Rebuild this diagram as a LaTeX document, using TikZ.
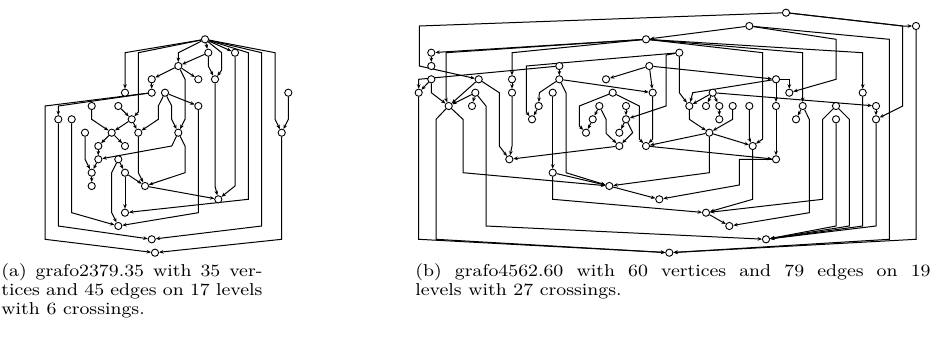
\documentclass[tikz,border=0pt]{standalone}
\usepackage{fontspec}
\usepackage{graphicx}
\usetikzlibrary{arrows.meta,backgrounds}
\tikzset{
  v/.style={circle,draw,fill=white,inner sep=0pt,minimum size=3.6pt,line width=0.45pt},
  e/.style={line width=0.5pt,-{Stealth[length=2.2pt,width=1.8pt]}},
  captxt/.style={inner sep=0pt,font=\fontsize{8.6}{10}\selectfont}
}
\begin{document}
\begin{tikzpicture}[x=0.5pt,y=-0.5pt]
\useasboundingbox (0,0) rectangle (940,337);
% ---------------- (a) ----------------
\node[v] (a0) at (205,39.3) {};
\node[v] (a1) at (208.3,52.7) {};
\node[v] (a2) at (235,52.7) {};
\node[v] (a3) at (178.3,66) {};
\node[v] (a4) at (198.3,79.3) {};
\node[v] (a5) at (215,79.3) {};
\node[v] (a6) at (151.7,79.3) {};
\node[v] (a7) at (151.7,92.7) {};
\node[v] (a8) at (165,92.7) {};
\node[v] (a9) at (288.3,92.7) {};
\node[v] (a10) at (198.3,106) {};
\node[v] (a11) at (178.3,132.7) {};
\node[v] (a12) at (281.7,132.7) {};
\node[v] (a13) at (218.3,199.3) {};
\node[v] (a14) at (151.7,239.3) {};
\node[v] (a15) at (155,252.7) {};
\node[v] (a16) at (125,92.7) {};
\node[v] (a17) at (91.7,106) {};
\node[v] (a18) at (118.3,106) {};
\node[v] (a19) at (58.3,119.3) {};
\node[v] (a20) at (71.7,119.3) {};
\node[v] (a21) at (131.7,119.3) {};
\node[v] (a22) at (85,132.7) {};
\node[v] (a23) at (111.7,132.7) {};
\node[v] (a24) at (138.3,132.7) {};
\node[v] (a25) at (98.3,146) {};
\node[v] (a26) at (125,146) {};
\node[v] (a27) at (98.3,159.3) {};
\node[v] (a28) at (118.3,159.3) {};
\node[v] (a29) at (91.7,172.7) {};
\node[v] (a30) at (125,172.7) {};
\node[v] (a31) at (91.7,186) {};
\node[v] (a32) at (145,186) {};
\node[v] (a33) at (125,212.7) {};
\node[v] (a34) at (118.3,226) {};
% ---------------- (b) ----------------
\node[v] (b0) at (786,12.7) {};
\node[v] (b25) at (749.3,26) {};
\node[v] (b26) at (916,26) {};
\node[v] (b1) at (646,39.3) {};
\node[v] (b2) at (431.3,52.7) {};
\node[v] (b27) at (679.3,52.7) {};
\node[v] (b3) at (431.3,66) {};
\node[v] (b4) at (559.3,66) {};
\node[v] (b5) at (649.3,66) {};
\node[v] (b6) at (431.3,79.3) {};
\node[v] (b7) at (478.7,79.3) {};
\node[v] (b8) at (512,79.3) {};
\node[v] (b9) at (559.3,79.3) {};
\node[v] (b10) at (606,79.3) {};
\node[v] (b28) at (776,79.3) {};
\node[v] (b11) at (418.7,92.7) {};
\node[v] (b12) at (475.3,92.7) {};
\node[v] (b13) at (512,92.7) {};
\node[v] (b14) at (552.7,92.7) {};
\node[v] (b15) at (612.7,92.7) {};
\node[v] (b16) at (652.7,92.7) {};
\node[v] (b29) at (789.3,92.7) {};
\node[v] (b30) at (862.7,92.7) {};
\node[v] (b31) at (712.7,92.7) {};
\node[v] (b17) at (448.7,106) {};
\node[v] (b18) at (472,106) {};
\node[v] (b19) at (538.7,106) {};
\node[v] (b20) at (599.3,106) {};
\node[v] (b21) at (626,106) {};
\node[v] (b32) at (689.3,106) {};
\node[v] (b33) at (706,106) {};
\node[v] (b34) at (719.3,106) {};
\node[v] (b35) at (732.7,106) {};
\node[v] (b36) at (749.3,106) {};
\node[v] (b37) at (776,106) {};
\node[v] (b38) at (802.7,106) {};
\node[v] (b39) at (836,106) {};
\node[v] (b40) at (876,106) {};
\node[v] (b22) at (532,119.3) {};
\node[v] (b23) at (592.7,119.3) {};
\node[v] (b24) at (626,119.3) {};
\node[v] (b41) at (719.3,119.3) {};
\node[v] (b42) at (796,119.3) {};
\node[v] (b43) at (836,119.3) {};
\node[v] (b44) at (876,119.3) {};
\node[v] (b45) at (586,132.7) {};
\node[v] (b46) at (619.3,132.7) {};
\node[v] (b54) at (709.3,132.7) {};
\node[v] (b47) at (619.3,146) {};
\node[v] (b48) at (646,146) {};
\node[v] (b55) at (752.7,146) {};
\node[v] (b49) at (509.3,159.3) {};
\node[v] (b56) at (776,159.3) {};
\node[v] (b50) at (552.7,172.7) {};
\node[v] (b51) at (609.3,186) {};
\node[v] (b52) at (659.3,199.3) {};
\node[v] (b57) at (706,212.7) {};
\node[v] (b58) at (729.3,226) {};
\node[v] (b59) at (766,239.3) {};
\node[v] (b53) at (669.3,252.7) {};
% ---------------- edges ----------------
\begin{scope}[on background layer]
% (a)
\draw[e] (a0)--(a1);
\draw[e] (a0)--(178.3,52.7)--(a3);
\draw[e] (a1)--(a3);
\draw[e] (a0)--(221.7,52.7)--(221.7,70)--(a5);
\draw[e] (a1)--(208.3,66)--(a5);
\draw[e] (a0)--(125,52.7)--(a16);
\draw[e] (a0)--(138.3,52.7)--(138.3,112)--(a21);
\draw[e] (a0)--(248.3,52.7)--(248.3,199.3)--(a33);
\draw[e] (a0)--(261.7,52.7)--(261.7,226)--(a14);
\draw[e] (a0)--(275,52.7)--(275,119.3)--(a12);
\draw[e] (a9)--(288.3,119.3)--(a12);
\draw[e] (a0)--(a2);
\draw[e] (a2)--(235,186)--(a13);
\draw[e] (a5)--(215,186)--(a13);
\draw[e] (a12)--(281.7,239.3)--(a15);
\draw[e] (a3)--(a6);
\draw[e] (a3)--(a4);
\draw[e] (a3)--(185,79.3)--(185,119.3)--(a11);
\draw[e] (a11)--(185,146)--(185,172.7)--(a32);
\draw[e] (a11)--(171.7,146)--(a27);
\draw[e] (a6)--(a7);
\draw[e] (a7)--(58.3,106)--(a19);
\draw[e] (a7)--(45,106)--(45,239.3)--(a15);
\draw[e] (a8)--(a10);
\draw[e] (a8)--(171.7,106)--(171.7,119.3)--(a11);
\draw[e] (a8)--(158.3,106)--(158.3,119.3)--(a24);
\draw[e] (a17)--(91.7,119.3)--(a23);
\draw[e] (a18)--(a21);
\draw[e] (a21)--(a23);
\draw[e] (a21)--(a24);
\draw[e] (a10)--(198.3,212.7)--(a34);
\draw[e] (a19)--(58.3,226)--(a14);
\draw[e] (a20)--(71.7,212.7)--(a34);
\draw[e] (a22)--(85,159.3)--(a29);
\draw[e] (a23)--(a25);
\draw[e] (a23)--(a26);
\draw[e] (a24)--(138.3,172.7)--(a32);
\draw[e] (a25)--(a27);
\draw[e] (a27)--(a29);
\draw[e] (a29)--(a31);
\draw[e] (a28)--(111.7,172.7)--(111.7,212.7)--(a34);
\draw[e] (a28)--(a30);
\draw[e] (a30)--(a32);
\draw[e] (a30)--(a33);
\draw[e] (a32)--(a13);
% (b)
\draw[e] (b0)--(419.3,26)--(419.3,66)--(b7);
\draw[e] (b0)--(902.7,26)--(b26);
\draw[e] (b0)--(902.7,26)--(902.7,106)--(b44);
\draw[e] (b25)--(b1);
\draw[e] (b25)--(836,39.3)--(836,79.3)--(b29);
\draw[e] (b25)--(889.3,39.3)--(889.3,239.3)--(b53);
\draw[e] (b26)--(916,239.3)--(b53);
\draw[e] (b1)--(b2);
\draw[e] (b1)--(446,52.7)--(446,99)--(b17);
\draw[e] (b1)--(512,52.7)--(b8);
\draw[e] (b1)--(762.7,52.7)--(762.7,139)--(b55);
\draw[e] (b1)--(802.7,52.7)--(b38);
\draw[e] (b1)--(862.7,52.7)--(b30);
\draw[e] (b2)--(b3);
\draw[e] (b4)--(418.7,79.3)--(b11);
\draw[e] (b4)--(b9);
\draw[e] (b5)--(b10);
\draw[e] (b5)--(b16);
\draw[e] (b5)--(b28);
\draw[e] (b6)--(b11);
\draw[e] (b6)--(431.3,92.7)--(b17);
\draw[e] (b7)--(b17);
\draw[e] (b7)--(499.3,92.7)--(499.3,146)--(b49);
\draw[e] (b8)--(b13);
\draw[e] (b9)--(b16);
\draw[e] (b9)--(539.3,92.7)--(b19);
\draw[e] (b9)--(566,92.7)--(566,172.7)--(b51);
\draw[e] (b11)--(418.7,239.3)--(b53);
\draw[e] (b12)--(b17);
\draw[e] (b12)--(b18);
\draw[e] (b12)--(486,106)--(486,226)--(b59);
\draw[e] (b13)--(512,146)--(b49);
\draw[e] (b14)--(b50);
\draw[e] (b15)--(579.3,106)--(579.3,126)--(b45);
\draw[e] (b15)--(639.3,106)--(639.3,139)--(b48);
\draw[e] (b16)--(652.7,106)--(652.7,139)--(b48);
\draw[e] (b17)--(436,119.3)--(436,239.3)--(b53);
\draw[e] (b17)--(463,119.3)--(463,172.7)--(b51);
\draw[e] (b19)--(b22);
\draw[e] (b20)--(b23);
\draw[e] (b20)--(606,119.3)--(606,133.3)--(b47);
\draw[e] (b21)--(b24);
\draw[e] (b23)--(b45);
\draw[e] (b24)--(b46);
\draw[e] (b24)--(632.7,132.7)--(b47);
\draw[e] (b27)--(526.3,66)--(526.3,112)--(b22);
\draw[e] (b27)--(666,55)--(666,106)--(b24);
\draw[e] (b27)--(679.3,92.7)--(b32);
\draw[e] (b28)--(789.3,79.3)--(b29);
\draw[e] (b28)--(692.7,92.7)--(b32);
\draw[e] (b28)--(b37);
\draw[e] (b31)--(b32);
\draw[e] (b31)--(b33);
\draw[e] (b31)--(b34);
\draw[e] (b31)--(b40);
\draw[e] (b34)--(b41);
\draw[e] (b32)--(689.3,119.3)--(b54);
\draw[e] (b35)--(732.7,119.3)--(b54);
\draw[e] (b36)--(749.3,139)--(b55);
\draw[e] (b37)--(b56);
\draw[e] (b38)--(b42);
\draw[e] (b38)--(809.3,119.3)--(809.3,212.7)--(b58);
\draw[e] (b39)--(822.7,119.3)--(822.7,199.3)--(b57);
\draw[e] (b39)--(849.3,119.3)--(849.3,226)--(b59);
\draw[e] (b43)--(836,226)--(b59);
\draw[e] (b30)--(862.7,226)--(b59);
\draw[e] (b44)--(876,226)--(b59);
\draw[e] (b40)--(b44);
\draw[e] (b47)--(b49);
\draw[e] (b48)--(b56);
\draw[e] (b54)--(b48);
\draw[e] (b54)--(b55);
\draw[e] (b54)--(709.3,172.7)--(b51);
\draw[e] (b50)--(b51);
\draw[e] (b50)--(552.7,199.3)--(b57);
\draw[e] (b51)--(b52);
\draw[e] (b56)--(739.3,159.3)--(739.3,185)--(b52);
\draw[e] (b55)--(752.7,199.3)--(b57);
\draw[e] (b57)--(b58);
\end{scope}
% ---------------- captions ----------------
\node[captxt,anchor=base west] (ca1) at (1,276) {\scalebox{1.12}[1]{\makebox[116.5pt][s]{(a) grafo2379.35 with 35 ver-}}};
\node[captxt,anchor=base west] (ca2) at (1,295) {\scalebox{1.12}[1]{\makebox[116.5pt][s]{tices and 45 edges on 17 levels}}};
\node[captxt,anchor=base west] (ca3) at (1,314) {\scalebox{1.12}[1]{with 6 crossings.}};
\node[captxt,anchor=base west] (cb1) at (415,276) {\scalebox{1.12}[1]{\makebox[230pt][s]{(b) grafo4562.60 with 60 vertices and 79 edges on 19}}};
\node[captxt,anchor=base west] (cb2) at (415,295) {\scalebox{1.12}[1]{levels with 27 crossings.}};
\end{tikzpicture}
\end{document}
